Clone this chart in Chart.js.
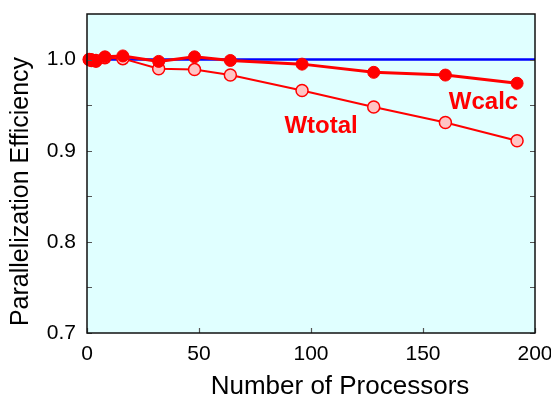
<!DOCTYPE html>
<html>
<head>
<meta charset="utf-8">
<script src="https://cdn.jsdelivr.net/npm/chart.js@4.4.1/dist/chart.umd.min.js"></script>
<style>
html,body{margin:0;padding:0;background:#fff;}
canvas{display:block;}
</style>
</head>
<body>
<canvas id="c" width="551" height="394"></canvas>
<script>
// ---- data ----
const processors = [1, 2, 4, 8, 16, 32, 48, 64, 96, 128, 160, 192];
const wcalc  = [1.000, 1.000, 0.998, 1.003, 1.004, 0.998, 1.003, 0.999, 0.995, 0.986, 0.983, 0.974];
const wtotal = [1.000, 0.999, 0.999, 1.002, 1.001, 0.990, 0.989, 0.983, 0.966, 0.948, 0.931, 0.911];
const idealX = [0, 200];
const idealY = [1.0, 1.0];
const xTicks = [0, 50, 100, 150, 200];
const yTicks = [0.7, 0.8, 0.9, 1.0];
const yMinorTicks = [0.75, 0.85, 0.95];
const xTitle = 'Number of Processors';
const yTitle = 'Parallelization Efficiency';
const seriesLabels = [
  {text: 'Wcalc', x: 177, y: 0.9454},
  {text: 'Wtotal', x: 104.5, y: 0.919}
];

const FONT = '"Liberation Sans", Arial, Helvetica, sans-serif';

const frame = {
  id: 'frame',
  beforeDraw(chart) {
    const {ctx, chartArea: a} = chart;
    ctx.save();
    ctx.fillStyle = '#e0ffff';
    ctx.fillRect(a.left, a.top, a.right - a.left, a.bottom - a.top);
    ctx.restore();
  },
  afterDatasetsDraw(chart) {
    const {ctx, chartArea: a, scales} = chart;
    ctx.save();
    // series labels
    ctx.fillStyle = '#ff0000';
    ctx.font = 'bold 24px ' + FONT;
    ctx.textAlign = 'center';
    ctx.textBaseline = 'alphabetic';
    seriesLabels.forEach(l => {
      ctx.fillText(l.text, scales.x.getPixelForValue(l.x), scales.y.getPixelForValue(l.y));
    });
    // ticks (inside)
    ctx.strokeStyle = '#555';
    ctx.lineWidth = 1.2;
    const tl = 5;
    ctx.beginPath();
    yTicks.concat(yMinorTicks).forEach(v => {
      const py = Math.round(scales.y.getPixelForValue(v)) + 0.5;
      ctx.moveTo(a.left, py); ctx.lineTo(a.left + tl, py);
      ctx.moveTo(a.right, py); ctx.lineTo(a.right - tl, py);
    });
    xTicks.forEach(v => {
      const px = Math.round(scales.x.getPixelForValue(v)) + 0.5;
      ctx.moveTo(px, a.bottom); ctx.lineTo(px, a.bottom - tl);
    });
    ctx.stroke();
    // border
    ctx.strokeStyle = '#111';
    ctx.lineWidth = 1.5;
    ctx.strokeRect(a.left, a.top, a.right - a.left, a.bottom - a.top);
    // axis titles
    ctx.fillStyle = '#000';
    ctx.textAlign = 'center';
    ctx.textBaseline = 'alphabetic';
    ctx.font = '26px ' + FONT;
    ctx.fillText(xTitle, 340, 394);
    ctx.translate(28, 191.5);
    ctx.rotate(-Math.PI / 2);
    ctx.font = '25px ' + FONT;
    ctx.fillText(yTitle, 0, 0);
    ctx.restore();
  }
};

const pts = (xs, ys) => xs.map((x, i) => ({x: x, y: ys[i]}));

new Chart(document.getElementById('c'), {
  type: 'scatter',
  data: {
    datasets: [
      {
        label: 'Ideal', data: pts(idealX, idealY), showLine: true,
        borderColor: '#0000ff', borderWidth: 2.5, pointRadius: 0, order: 3
      },
      {
        label: 'Wtotal', data: pts(processors, wtotal), showLine: true,
        borderColor: '#ff0000', borderWidth: 2,
        pointRadius: 6, pointBackgroundColor: '#ffc4c4', pointBorderColor: '#ff0000',
        pointBorderWidth: 1.5, order: 2, clip: false
      },
      {
        label: 'Wcalc', data: pts(processors, wcalc), showLine: true,
        borderColor: '#ff0000', borderWidth: 3,
        pointRadius: 6, pointBackgroundColor: '#ff0000', pointBorderColor: '#ff0000',
        pointBorderWidth: 1, order: 1, clip: false
      }
    ]
  },
  options: {
    responsive: false,
    animation: false,
    devicePixelRatio: 1,
    layout: {padding: {top: 14, right: 16, left: 0, bottom: 0}},
    plugins: {legend: {display: false}, tooltip: {enabled: false}},
    scales: {
      x: {
        type: 'linear', min: 0, max: 200,
        afterFit(s) { s.height = 61; s.paddingLeft = 0; s.paddingRight = 0; },
        afterBuildTicks(s) { s.ticks = xTicks.map(v => ({value: v})); },
        grid: {display: false, drawTicks: false},
        border: {display: false},
        ticks: {
          color: '#000', font: {family: FONT, size: 21}, padding: 9,
          maxRotation: 0, autoSkip: false,
          callback: v => String(v)
        },
        title: {display: false}
      },
      y: {
        type: 'linear', min: 0.7, max: 1.05,
        afterFit(s) { s.width = 87; s.paddingTop = 0; s.paddingBottom = 0; },
        afterBuildTicks(s) { s.ticks = yTicks.map(v => ({value: v})); },
        grid: {display: false, drawTicks: false},
        border: {display: false},
        ticks: {
          color: '#000', font: {family: FONT, size: 21}, padding: 11,
          autoSkip: false,
          callback: v => Number(v).toFixed(1)
        },
        title: {display: false}
      }
    }
  },
  plugins: [frame]
});
</script>
</body>
</html>
